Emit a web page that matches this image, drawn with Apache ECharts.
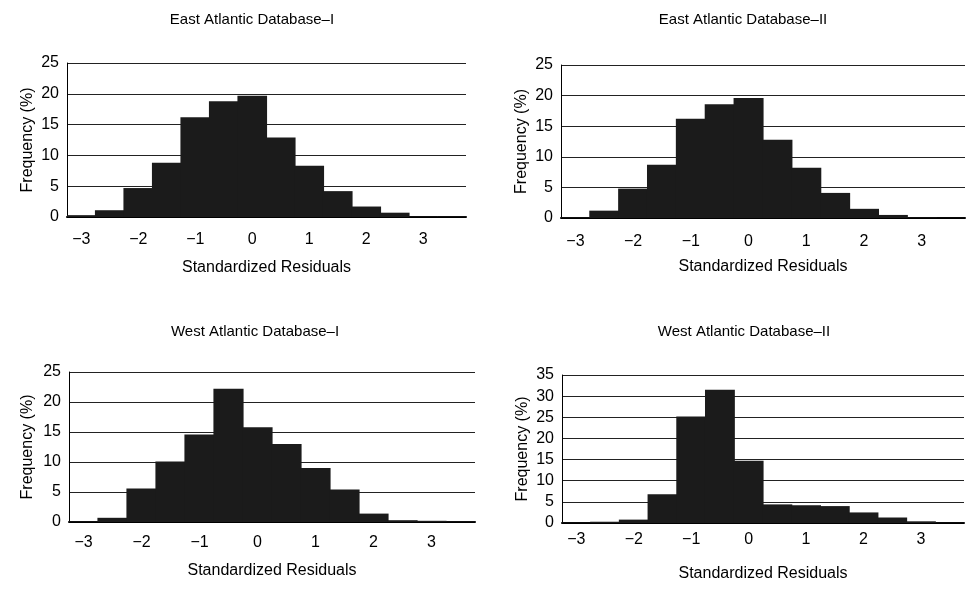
<!DOCTYPE html>
<html>
<head>
<meta charset="utf-8">
<script src="https://cdn.jsdelivr.net/npm/echarts@6/dist/echarts.min.js"></script>
<style>
html,body{margin:0;padding:0;background:#fff;}
#c{width:975px;height:600px;}
</style>
</head>
<body>
<div id="c"></div>
<script>
// Bin centers (standardized residuals), bin width 0.5
const binCenters = [-3, -2.5, -2, -1.5, -1, -0.5, 0, 0.5, 1, 1.5, 2, 2.5, 3, 3.5];
// Frequency (%) per bin
const eastI  = [0.3, 1.1, 4.7, 8.8, 16.2, 18.8, 19.7, 12.9, 8.3, 4.2, 1.7, 0.7, 0.1, 0.1];
const eastII = [0.1, 1.2, 4.8, 8.7, 16.2, 18.6, 19.6, 12.8, 8.2, 4.1, 1.5, 0.5, 0.1, 0.05];
const westI  = [0.1, 0.7, 5.6, 10.1, 14.6, 22.2, 15.8, 13.0, 9.0, 5.4, 1.4, 0.3, 0.2, 0.1];
const westII = [0.1, 0.3, 0.8, 6.8, 25.2, 31.5, 14.7, 4.4, 4.2, 4.0, 2.5, 1.3, 0.4, 0.1];
const titles = ['East Atlantic Database\u2013I', 'East Atlantic Database\u2013II',
                'West Atlantic Database\u2013I', 'West Atlantic Database\u2013II'];
const yMax = [25, 25, 25, 35];
const yInterval = 5;
const xName = 'Standardized Residuals';
const yName = 'Frequency (%)';

const FONT = "'Liberation Sans', Arial, sans-serif";
const grids = [
  {left: 67,  top: 63,  width: 399, height: 154},
  {left: 561, top: 65,  width: 404, height: 153},
  {left: 69,  top: 372, width: 406, height: 150},
  {left: 562, top: 375, width: 402, height: 148}
];
const titlePos = [[247, 7], [738, 7], [250, 319], [739, 319]];
const xLabelMargin = [15, 16, 13, 9];
const xNameGap = [43, 41, 41, 43];
const yNameGap = [31, 31, 33, 31];
const series = [eastI, eastII, westI, westII];

const option = {
  backgroundColor: '#fff',
  animation: false,
  title: titles.map((t, i) => ({
    text: t, left: titlePos[i][0], top: titlePos[i][1], textAlign: 'center',
    textStyle: {fontFamily: FONT, fontSize: 15, fontWeight: 'normal', color: '#000'}
  })),
  grid: grids,
  xAxis: grids.map((g, i) => ({
    type: 'category', gridIndex: i, data: binCenters.map(String),
    axisLine: {lineStyle: {color: '#000', width: 2}},
    axisTick: {show: false},
    axisLabel: {interval: 1, margin: xLabelMargin[i], color: '#000', fontFamily: FONT, fontSize: 16,
      formatter: v => String(v).replace('-', '\u2212')},
    name: xName, nameLocation: 'middle', nameGap: xNameGap[i],
    nameTextStyle: {fontFamily: FONT, fontSize: 16, color: '#000'}
  })),
  yAxis: grids.map((g, i) => ({
    type: 'value', gridIndex: i, min: 0, max: yMax[i], interval: yInterval,
    axisLine: {show: true, lineStyle: {color: '#000', width: 1}},
    axisTick: {show: false},
    axisLabel: {margin: 8, color: '#000', fontFamily: FONT, fontSize: 16},
    splitLine: {show: true, lineStyle: {color: '#222', width: 1}},
    name: yName, nameLocation: 'middle', nameGap: yNameGap[i],
    nameTextStyle: {fontFamily: FONT, fontSize: 16, color: '#000'}
  })),
  series: series.map((d, i) => ({
    type: 'bar', xAxisIndex: i, yAxisIndex: i, data: d,
    barWidth: '104%',
    itemStyle: {color: '#1b1b1b'}
  }))
};
const chart = echarts.init(document.getElementById('c'), null, {renderer: 'canvas'});
chart.setOption(option);
</script>
</body>
</html>
